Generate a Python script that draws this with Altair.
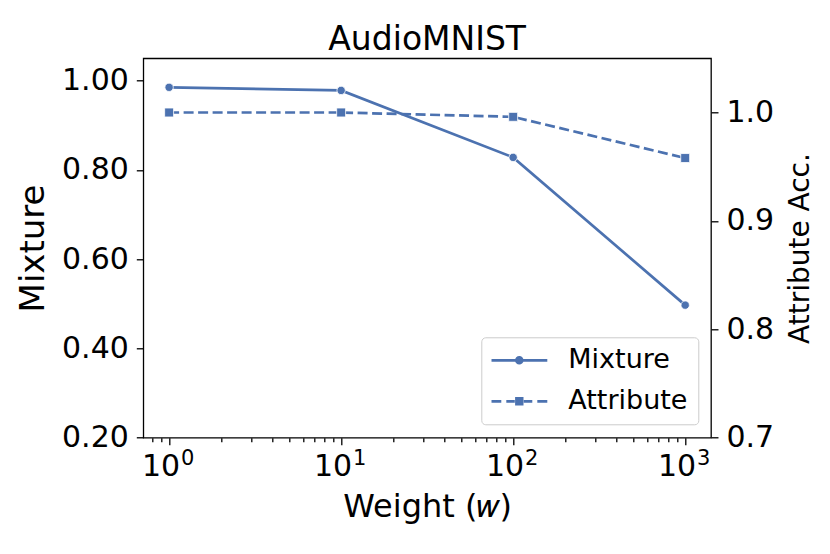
import altair as alt
import pandas as pd

# ---- data ----
weights = [1, 10, 100, 1000]
mixture = [0.985, 0.978, 0.828, 0.497]
attribute = [1.000, 1.000, 0.996, 0.958]
series_names = ["Mixture", "Attribute"]

x_major = [1, 10, 100, 1000]
x_base_labels = ["10", "10", "10", "10"]
x_exponents = ["0", "1", "2", "3"]
x_minor = [0.8, 0.9, 2, 3, 4, 5, 6, 7, 8, 9, 20, 30, 40, 50, 60, 70, 80, 90,
           200, 300, 400, 500, 600, 700, 800, 900]
left_ticks = [0.2, 0.4, 0.6, 0.8, 1.0]
right_ticks = [0.7, 0.8, 0.9, 1.0]

BLUE = "#4c72b0"
FONT = "DejaVu Sans"

df_m = pd.DataFrame({"w": weights, "v": mixture})
df_a = pd.DataFrame({"w": weights, "v": attribute})
df_leg = pd.DataFrame({"series": series_names})


def label_expr(values, texts):
    return " : ".join(
        f"datum.value == {v} ? '{t}'" for v, t in zip(values, texts)
    ) + " : ''"


xscale = alt.Scale(type="log", domain=[10 ** -0.15, 10 ** 3.15], nice=False)

x_major_axis = alt.Axis(values=x_major,
                        labelExpr=label_expr(x_major, x_base_labels),
                        tickSize=7, labelOffset=-8.6, labelPadding=7,
                        title="Weight (𝑤)", titleFontSize=32,
                        titlePadding=10, orient="bottom")
x_minor_axis = alt.Axis(values=x_minor, labels=False, tickSize=4,
                        title=None, orient="bottom")
x_exp_axis = alt.Axis(values=x_major,
                      labelExpr=label_expr(x_major, x_exponents),
                      tickSize=0, labelFontSize=21, labelOffset=18,
                      labelPadding=10, title=None, orient="bottom")

# Mixture (left axis)
ym = alt.Y("v:Q", scale=alt.Scale(domain=[0.2, 1.05], nice=False, zero=False),
           axis=alt.Axis(values=left_ticks, format=".2f", title="Mixture",
                         titleFontSize=34, orient="left", tickSize=7,
                         labelPadding=8, titlePadding=11))
mix_line = alt.Chart(df_m).mark_line(color=BLUE, strokeWidth=2.7).encode(
    x=alt.X("w:Q", scale=xscale, axis=x_major_axis), y=ym)
mix_pts = alt.Chart(df_m).mark_point(filled=True, shape="circle", size=70,
                                     color=BLUE, stroke="white",
                                     strokeWidth=0.8, opacity=1).encode(
    x=alt.X("w:Q", scale=xscale, axis=x_major_axis), y=ym)
left = alt.layer(mix_line, mix_pts)

# Attribute (right axis)
ya = alt.Y("v:Q", scale=alt.Scale(domain=[0.7, 1.05], nice=False, zero=False),
           axis=alt.Axis(values=right_ticks, format=".1f",
                         title="Attribute Acc.", titleFontSize=28,
                         orient="right", tickSize=7, labelPadding=8,
                         titlePadding=13, titleAngle=270,
                         titleBaseline="top"))
att_line = alt.Chart(df_a).mark_line(color=BLUE, strokeWidth=2.7,
                                     strokeDash=[10, 4.5]).encode(
    x=alt.X("w:Q", scale=xscale, axis=x_minor_axis), y=ya)
att_pts = alt.Chart(df_a).mark_point(filled=True, shape="square", size=80,
                                     color=BLUE, stroke="white",
                                     strokeWidth=0.8, opacity=1).encode(
    x=alt.X("w:Q", scale=xscale, axis=x_minor_axis), y=ya)
right = alt.layer(att_line, att_pts)

# Legend-only layer: filled symbol shapes that draw line + marker
# (unit = half the 56 px symbol width)
path_mix = ("M-1,-0.048H1V0.048H-1Z"
            "M0.154,0A0.154,0.154 0 1,1 -0.154,0"
            "A0.154,0.154 0 1,1 0.154,0Z")
path_att = ("M-1,-0.048H-0.643V0.048H-1Z"
            "M-0.464,-0.048H-0.161V0.048H-0.464Z"
            "M0.161,-0.048H0.464V0.048H0.161Z"
            "M0.643,-0.048H1V0.048H0.643Z"
            "M-0.15,-0.15H0.15V0.15H-0.15Z")
legend_layer = alt.Chart(df_leg).transform_filter("false").mark_point(
    size=3136, filled=True, color=BLUE, strokeWidth=0, opacity=1).encode(
    x=alt.X("w:Q", scale=xscale, axis=x_exp_axis),
    shape=alt.Shape("series:N",
                    scale=alt.Scale(domain=series_names,
                                    range=[path_mix, path_att]),
                    legend=alt.Legend(title=None, orient="bottom-right",
                                      offset=13, padding=10,
                                      labelFontSize=27, labelFont=FONT,
                                      labelColor="black",
                                      symbolSize=3136,
                                      symbolStrokeWidth=0,
                                      symbolOffset=0, labelOffset=21,
                                      clipHeight=26,
                                      rowPadding=14,
                                      strokeColor="#cccccc",
                                      fillColor="rgba(255,255,255,0.8)",
                                      cornerRadius=4)))

chart = alt.layer(left, right, legend_layer).resolve_scale(
    y="independent").resolve_axis(x="independent", y="independent").properties(
    width=567.7, height=379.4,
    title=alt.TitleParams("AudioMNIST", fontSize=33, font=FONT,
                          fontWeight="normal", color="black", offset=1,
                          anchor="middle"),
    autosize=alt.AutoSizeParams(type="none"),
    padding={"left": 135.3, "top": 50.3, "right": 111, "bottom": 108},
).configure_view(stroke="black", strokeWidth=1.3).configure_axis(
    labelFont=FONT, labelFontSize=30, labelColor="black",
    titleFont=FONT, titleFontSize=33, titleColor="black",
    titleFontWeight="normal", tickColor="black", tickWidth=1.3,
    domain=False, grid=False)

chart.save("out.html", embed_options={"renderer": "svg", "actions": False})
